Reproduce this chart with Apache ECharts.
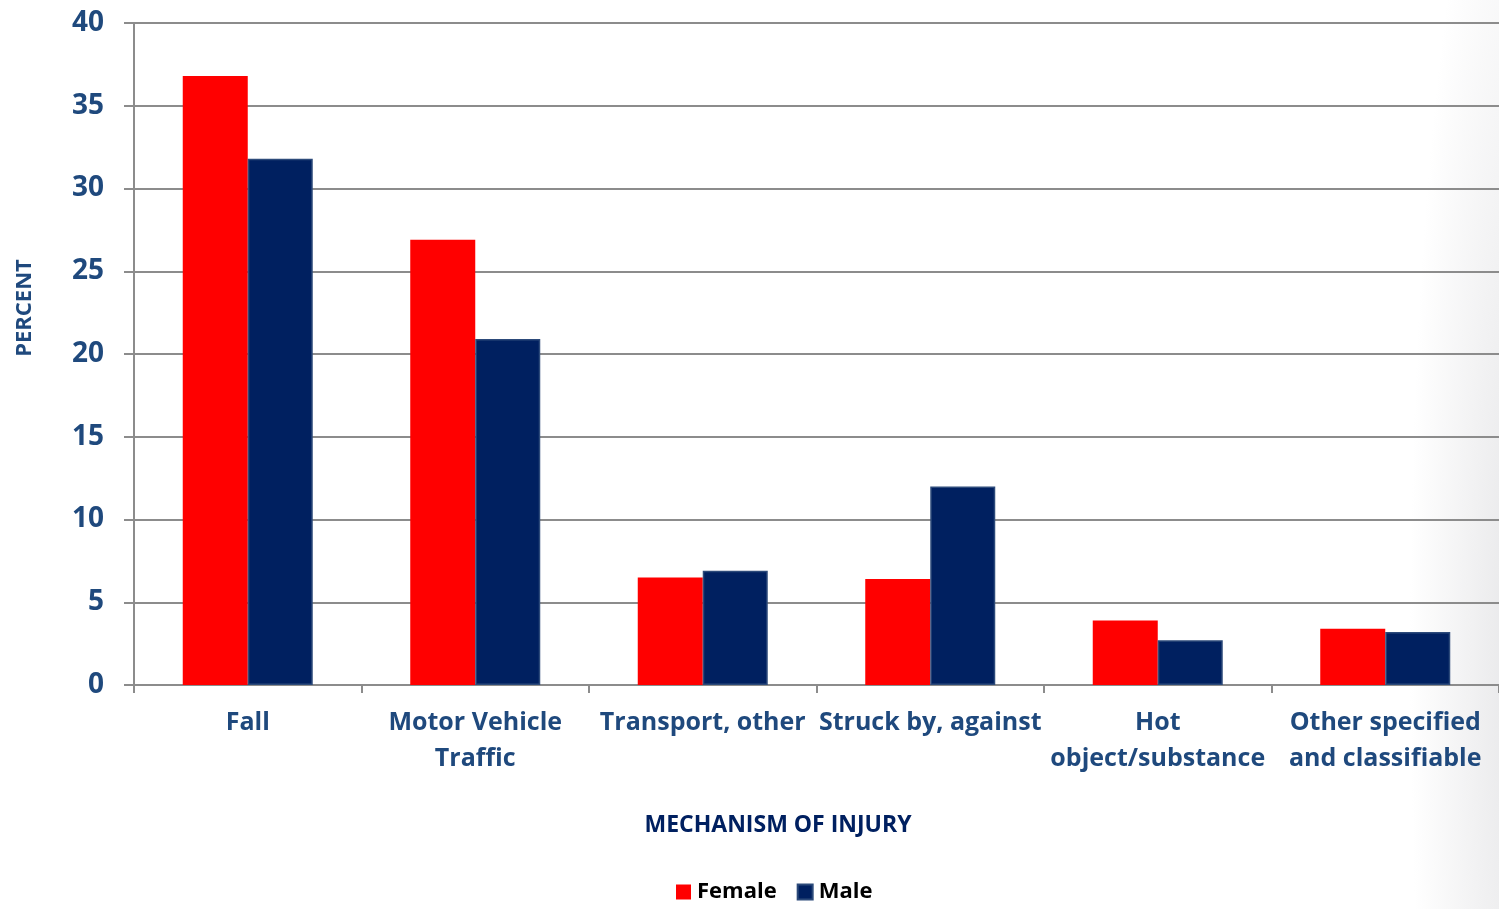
<!DOCTYPE html>
<html>
<head>
<meta charset="utf-8">
<script src="https://cdn.jsdelivr.net/npm/echarts@6/dist/echarts.min.js"></script>
<style>
  html, body { margin: 0; padding: 0; }
  body {
    width: 1499px;
    height: 909px;
    background: radial-gradient(ellipse 120px 900px at 1530px 650px, #e4e4e6 0%, #ffffff 100%);
  }
  #chart { width: 1499px; height: 909px; }
</style>
</head>
<body>
<div id="chart"></div>
<script>
const categories = [
  "Fall",
  "Motor Vehicle\nTraffic",
  "Transport, other",
  "Struck by, against",
  "Hot\nobject/substance",
  "Other specified\nand classifiable"
];
const femaleValues = [36.8, 26.9, 6.5, 6.4, 3.9, 3.4];
const maleValues = [31.8, 20.9, 6.9, 12.0, 2.7, 3.2];
const yTicks = [0, 5, 10, 15, 20, 25, 30, 35, 40];

const labelBlue = "#1f497d";
const nameBlue = "#002060";
const gridGray = "#8c8c8c";
const fontFam = "'Open Sans', sans-serif";

let myChart = echarts.init(document.getElementById("chart"));
let option = {
  backgroundColor: "transparent",
  animation: false,
  legend: {
    data: ["Female", "Male"],
    top: 876,
    left: 671,
    icon: "rect",
    itemWidth: 15,
    itemHeight: 15,
    itemGap: 20,
    textStyle: {
      color: "#000",
      fontFamily: fontFam,
      fontWeight: "bold",
      fontSize: 22,
      padding: [0, 0, 0, 1]
    }
  },
  graphic: [
    {
      type: "text",
      x: 25,
      y: 308,
      rotation: Math.PI / 2,
      style: {
        text: "PERCENT",
        fill: labelBlue,
        font: "bold 22px 'Open Sans', sans-serif",
        align: "center",
        verticalAlign: "middle"
      }
    },
    {
      type: "text",
      x: 778,
      y: 825,
      style: {
        text: "MECHANISM OF INJURY",
        fill: nameBlue,
        font: "bold 23px 'Open Sans', sans-serif",
        align: "center",
        verticalAlign: "middle"
      }
    }
  ],
  grid: {
    left: 134,
    right: 0,
    top: 23,
    bottom: 224
  },
  xAxis: {
    type: "category",
    data: categories,
    axisLine: { lineStyle: { color: gridGray, width: 2 } },
    axisTick: { show: true, length: 8, lineStyle: { color: gridGray, width: 2 } },
    axisLabel: {
      color: labelBlue,
      fontFamily: fontFam,
      fontWeight: "bold",
      fontSize: 25,
      lineHeight: 36,
      margin: 20,
      interval: 0
    }
  },
  yAxis: {
    type: "value",
    min: 0,
    max: 40,
    interval: 5,
    axisLine: { show: true, lineStyle: { color: gridGray, width: 2 } },
    axisTick: { show: true, length: 10, lineStyle: { color: gridGray, width: 2 } },
    axisLabel: {
      color: labelBlue,
      fontFamily: fontFam,
      fontWeight: "bold",
      fontSize: 28,
      margin: 30,
      formatter: function (v) {
        return yTicks.indexOf(v) >= 0 ? String(v) : "";
      }
    },
    splitLine: { show: true, lineStyle: { color: gridGray, width: 2 } }
  },
  series: [
    {
      name: "Female",
      type: "bar",
      data: femaleValues,
      barWidth: 65,
      barGap: "0%",
      itemStyle: { color: "#ff0000" }
    },
    {
      name: "Male",
      type: "bar",
      data: maleValues,
      barWidth: 65,
      barGap: "0%",
      itemStyle: { color: "#002060", borderColor: "#2c4a7a", borderWidth: 1.5 }
    }
  ]
};
myChart.setOption(option);
window.addEventListener("resize", () => {
  myChart.resize();
});
</script>
</body>
</html>
